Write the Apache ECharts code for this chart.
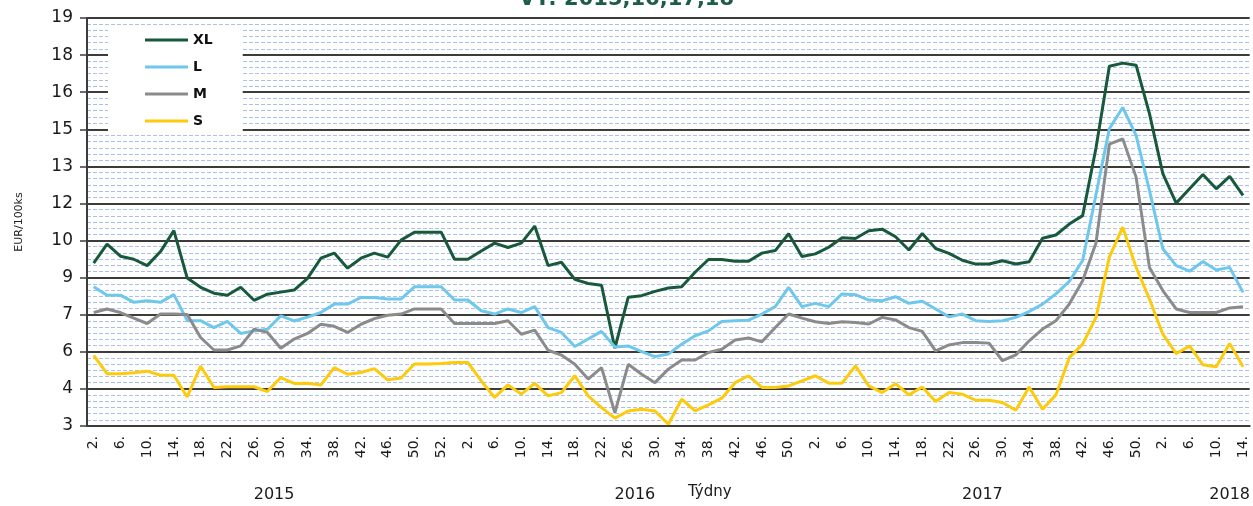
<!DOCTYPE html>
<html>
<head>
<meta charset="utf-8">
<title>VT: 2015,16,17,18</title>
<script src="https://cdn.jsdelivr.net/npm/echarts@6/dist/echarts.min.js"></script>
<style>
  html, body { margin: 0; padding: 0; background: #fff; }
  #chart { width: 1253px; height: 506px; }
</style>
</head>
<body>
<div id="chart"></div>
<script>
// týdny po rocích (kategorie osy X)
const years = ['2015', '2016', '2017', '2018'];
const weeks2015 = [2, 4, 6, 8, 10, 12, 14, 16, 18, 20, 22, 24, 26, 28, 30, 32, 34, 36, 38, 40, 42, 44, 46, 48, 50, 51, 52, 53];
const weeks2016 = [2, 4, 6, 8, 10, 12, 14, 16, 18, 20, 22, 24, 26, 28, 30, 32, 34, 36, 38, 40, 42, 44, 46, 48, 50, 52];
const weeks2017 = [2, 4, 6, 8, 10, 12, 14, 16, 18, 20, 22, 24, 26, 28, 30, 32, 34, 36, 38, 40, 42, 44, 46, 48, 50, 52];
const weeks2018 = [2, 4, 6, 8, 10, 12, 14];

// ceny EUR/100ks
const xl = [9.39, 10.13, 9.66, 9.54, 9.29, 9.84, 10.66, 8.8, 8.44, 8.21,
  8.13, 8.44, 7.93, 8.17, 8.25, 8.33, 8.79, 9.58, 9.78, 9.19,
  9.58, 9.78, 9.62, 10.29, 10.6, 10.6, 10.6, 9.54, 9.54, 9.86,
  10.17, 10.0, 10.17, 10.84, 9.29, 9.42, 8.75, 8.59, 8.52, 6.05,
  8.05, 8.11, 8.28, 8.41, 8.46, 9.03, 9.53, 9.53, 9.46, 9.46,
  9.78, 9.88, 10.54, 9.65, 9.75, 10.01, 10.38, 10.35, 10.66, 10.72,
  10.42, 9.9, 10.55, 9.96, 9.77, 9.5, 9.35, 9.35, 9.48, 9.35,
  9.44, 10.36, 10.49, 10.92, 11.25, 13.9, 17.11, 17.23, 17.15, 15.25,
  12.9, 11.74, 12.3, 12.86, 12.3, 12.79, 12.04];
const l = [8.46, 8.13, 8.13, 7.85, 7.91, 7.85, 8.15, 7.13, 7.13, 6.86,
  7.1, 6.63, 6.73, 6.79, 7.32, 7.12, 7.27, 7.45, 7.78, 7.78,
  8.04, 8.04, 7.98, 7.98, 8.46, 8.46, 8.46, 7.94, 7.94, 7.52,
  7.39, 7.59, 7.45, 7.68, 6.86, 6.67, 6.12, 6.41, 6.71, 6.1,
  6.14, 5.92, 5.72, 5.82, 6.21, 6.54, 6.73, 7.1, 7.13, 7.15,
  7.39, 7.68, 8.44, 7.68, 7.81, 7.68, 8.18, 8.15, 7.94, 7.91,
  8.07, 7.81, 7.89, 7.59, 7.28, 7.39, 7.13, 7.1, 7.13, 7.26,
  7.49, 7.78, 8.18, 8.67, 9.49, 12.08, 14.66, 15.49, 14.4, 12.24,
  9.95, 9.29, 9.07, 9.45, 9.12, 9.22, 8.24];
const m = [7.45, 7.59, 7.45, 7.23, 7.02, 7.39, 7.39, 7.37, 6.47, 5.98,
  5.98, 6.14, 6.8, 6.67, 6.05, 6.41, 6.63, 6.99, 6.91, 6.67,
  6.99, 7.21, 7.34, 7.39, 7.59, 7.59, 7.59, 7.02, 7.02, 7.02,
  7.02, 7.13, 6.6, 6.76, 5.97, 5.78, 5.42, 4.84, 5.29, 3.52,
  5.42, 5.03, 4.7, 5.23, 5.59, 5.59, 5.88, 6.01, 6.37, 6.45,
  6.3, 6.86, 7.39, 7.23, 7.09, 7.02, 7.09, 7.06, 7.0, 7.26,
  7.16, 6.86, 6.71, 5.95, 6.18, 6.27, 6.27, 6.25, 5.56, 5.79,
  6.34, 6.8, 7.13, 7.78, 8.7, 10.18, 14.05, 14.26, 12.76, 9.22,
  8.31, 7.59, 7.45, 7.45, 7.45, 7.63, 7.68];
const s = [5.77, 5.05, 5.05, 5.09, 5.15, 4.99, 4.99, 4.14, 5.35, 4.51,
  4.54, 4.54, 4.54, 4.35, 4.9, 4.67, 4.68, 4.61, 5.29, 5.03,
  5.1, 5.25, 4.81, 4.88, 5.43, 5.43, 5.45, 5.49, 5.49, 4.77,
  4.12, 4.61, 4.25, 4.67, 4.18, 4.31, 4.97, 4.18, 3.72, 3.31,
  3.59, 3.66, 3.59, 3.07, 4.05, 3.59, 3.83, 4.09, 4.7, 4.97,
  4.51, 4.51, 4.57, 4.77, 4.97, 4.68, 4.68, 5.36, 4.57, 4.31,
  4.66, 4.22, 4.53, 3.96, 4.31, 4.25, 4.01, 4.01, 3.92, 3.62,
  4.53, 3.66, 4.22, 5.68, 6.21, 7.26, 9.62, 10.8, 9.22, 7.98,
  6.6, 5.84, 6.14, 5.4, 5.32, 6.24, 5.32];

// osa Y: 3..19 rozdělená na 11 dílů (popisky zaokrouhlené jako v Excelu)
const yMin = 3;
const yMax = 19;
const yDivs = 11;

// kategorie "rok/týden"
const weeksByYear = [weeks2015, weeks2016, weeks2017, weeks2018];
const categories = [];
years.forEach((y, k) => weeksByYear[k].forEach(w => categories.push(y + '/' + w)));

// pozice popisků roků na pomocné ose (v počtu kategorií od levého okraje)
const yearPos = [14, 41, 67, 85.5];

const font = 'DejaVu Sans, Verdana, sans-serif';
const gridColor = '#3c3c3c';

const chart = echarts.init(document.getElementById('chart'));

chart.setOption({
  animation: false,
  backgroundColor: '#ffffff',
  color: ['#17593a', '#6fc7ec', '#8b8b8b', '#fdca0c'],
  textStyle: { fontFamily: font },
  title: [
    {
      text: 'VT: 2015,16,17,18',
      left: 'center',
      top: -16,
      textStyle: { color: '#1d5c46', fontWeight: 'bold', fontSize: 21, fontFamily: font }
    },
    {
      text: 'Týdny',
      left: 683,
      top: 480,
      textStyle: { color: '#1a1a1a', fontWeight: 'normal', fontSize: 15, fontFamily: font }
    }
  ],
  legend: {
    orient: 'vertical',
    left: 108,
    top: 25,
    backgroundColor: '#ffffff',
    padding: [8, 30, 7, 37],
    itemGap: 13,
    itemWidth: 43,
    itemHeight: 3,
    icon: 'rect',
    textStyle: { fontFamily: font, fontSize: 14, fontWeight: 'bold', color: '#111' },
    data: ['XL', 'L', 'M', 'S']
  },
  grid: { left: 87, right: 0, top: 18, bottom: 80 },
  xAxis: [
    {
      type: 'category',
      data: categories,
      boundaryGap: true,
      axisLine: { onZero: false, lineStyle: { color: gridColor, width: 2 } },
      axisTick: { show: false },
      axisLabel: {
        interval: 1,
        rotate: 90,
        margin: 10,
        fontSize: 14,
        color: '#1a1a1a',
        fontFamily: font,
        formatter: v => v.split('/')[1] + '.'
      },
      splitLine: { show: false }
    },
    {
      // pomocná osa jen pro popisky roků
      type: 'value',
      position: 'bottom',
      min: 0,
      max: categories.length,
      axisLine: { show: false },
      axisTick: { show: false },
      splitLine: { show: false },
      axisLabel: {
        customValues: yearPos,
        margin: 61,
        fontSize: 16,
        color: '#1a1a1a',
        fontFamily: font,
        formatter: v => years[yearPos.indexOf(v)]
      }
    }
  ],
  yAxis: [
    {
      // datová osa (skrytá)
      type: 'value',
      min: yMin,
      max: yMax,
      show: false
    },
    {
      // zobrazená mřížka a popisky
      type: 'value',
      position: 'left',
      min: 0,
      max: yDivs,
      interval: 1,
      name: 'EUR/100ks',
      nameLocation: 'middle',
      nameRotate: 90,
      nameGap: 62,
      nameTextStyle: { fontSize: 11, color: '#222', fontFamily: font },
      axisLine: { show: true, onZero: false, lineStyle: { color: gridColor, width: 2 } },
      axisTick: { show: true, inside: false, length: 7, lineStyle: { color: gridColor, width: 1.5 } },
      axisLabel: {
        margin: 14,
        fontSize: 17,
        color: '#1a1a1a',
        fontFamily: font,
        formatter: v => String(Math.round(yMin + v * (yMax - yMin) / yDivs))
      },
      splitLine: { show: true, lineStyle: { color: gridColor, width: 2 } },
      minorTick: { show: false, splitNumber: 6 },
      minorSplitLine: { show: true, lineStyle: { color: '#a8c2ea', width: 1, type: [4, 2] } }
    }
  ],
  series: [
    { name: 'XL', type: 'line', data: xl, showSymbol: false, lineStyle: { width: 3 } },
    { name: 'L', type: 'line', data: l, showSymbol: false, lineStyle: { width: 3 } },
    { name: 'M', type: 'line', data: m, showSymbol: false, lineStyle: { width: 3 } },
    { name: 'S', type: 'line', data: s, showSymbol: false, lineStyle: { width: 3 } }
  ]
});
</script>
</body>
</html>
